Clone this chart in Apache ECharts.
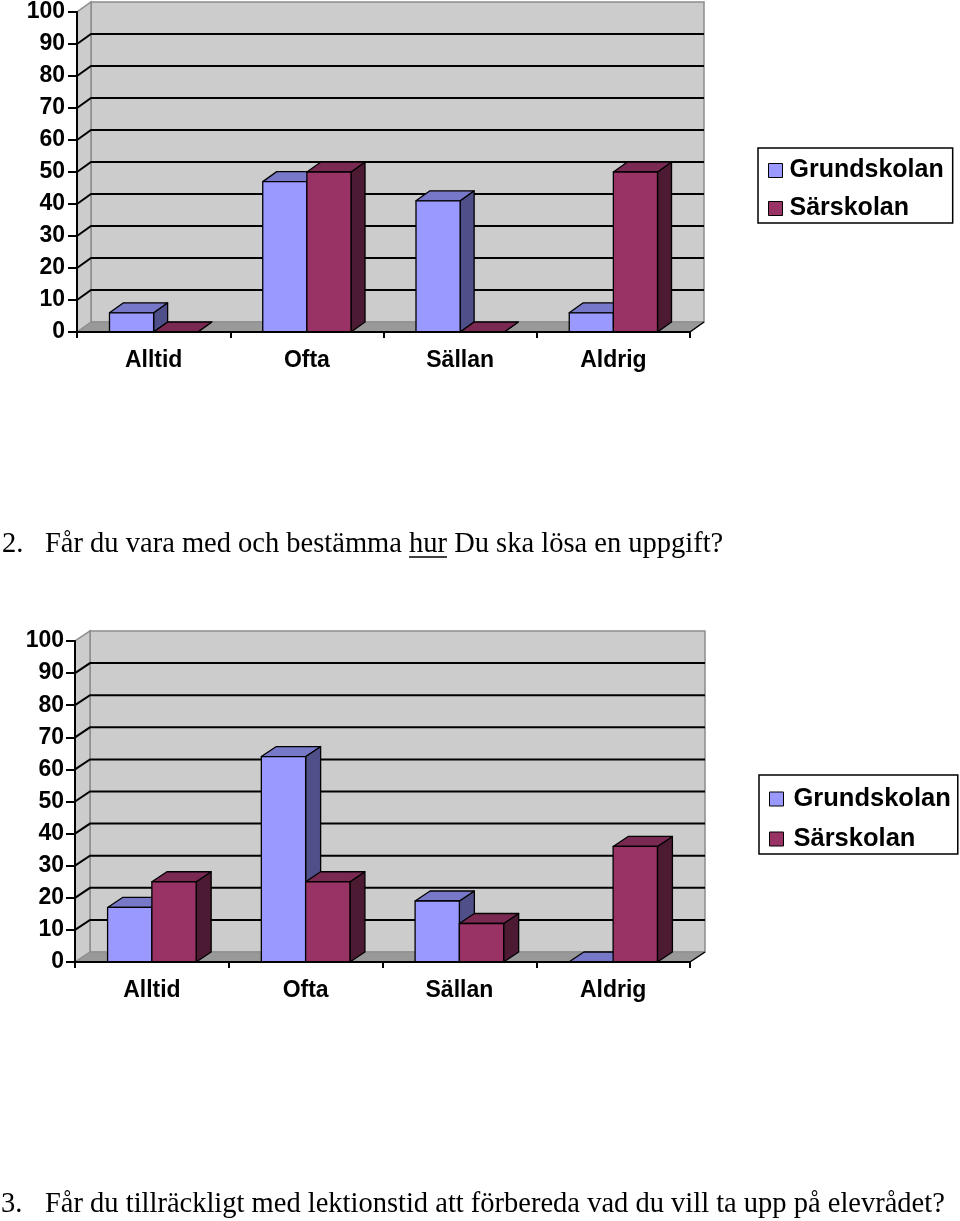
<!DOCTYPE html>
<html><head><meta charset="utf-8">
<script src="https://cdn.jsdelivr.net/npm/echarts@6/dist/echarts.min.js"></script>
<style>html,body{margin:0;padding:0;background:#fff}#c{width:960px;height:1221px}</style>
</head><body><div id="c"></div>
<script>
// ---------- data ----------
const CATEGORIES = ['Alltid', 'Ofta', 'Sällan', 'Aldrig'];
const SERIES_NAMES = ['Grundskolan', 'Särskolan'];
const Y_TICKS = [0, 10, 20, 30, 40, 50, 60, 70, 80, 90, 100];
const CHART1_GRUNDSKOLAN = [6, 47, 41, 6];
const CHART1_SARSKOLAN = [0, 50, 0, 50];
const CHART2_GRUNDSKOLAN = [17, 64, 19, 0];
const CHART2_SARSKOLAN = [25, 25, 12, 36];
const TITLE_Q2_NUM = '2.';
const TITLE_Q2_PRE = 'Får du vara med och bestämma ';
const TITLE_Q2_UNDERLINED = 'hur';
const TITLE_Q2_POST = ' Du ska lösa en uppgift?';
const TITLE_Q3_NUM = '3.';
const TITLE_Q3 = 'Får du tillräckligt med lektionstid att förbereda vad du vill ta upp på elevrådet?';

// ---------- layout / style ----------
const CHARTS = [
  { grid: { left: 77, top: 12, width: 613, height: 320 }, dx: 14, dy: -10, yMargin: 12,
    legend: { left: 758, top: 148, itemGap: 13, padding: [10, 9, 2, 10], fontSize: 25, textPad: 2 },
    values: [CHART1_GRUNDSKOLAN, CHART1_SARSKOLAN] },
  { grid: { left: 75, top: 641, width: 615, height: 321 }, dx: 15, dy: -10, yMargin: 11,
    legend: { left: 759, top: 775, itemGap: 14, padding: [11, 7, 2, 10], fontSize: 25.5, textPad: 5 },
    values: [CHART2_GRUNDSKOLAN, CHART2_SARSKOLAN] }
];
const FACE = [
  { front: '#9999ff', top: '#7878c8', side: '#4f4f8a' },
  { front: '#993366', top: '#7a2952', side: '#4c1a33' }
];
const SANS = 'Liberation Sans';
const SERIF = 'Liberation Serif';
const TITLE_SIZE = 28.5;

function wallsRender(cfg) {
  return function (params, api) {
    const cs = params.coordSys;
    const x = cs.x, w = cs.width;
    const v = api.value(1);
    const y = api.coord([0, v])[1];
    const y0 = api.coord([0, 0])[1], y100 = api.coord([0, 100])[1];
    const dx = cfg.dx, dy = cfg.dy;
    const ch = [];
    if (params.dataIndex === 0) {
      ch.push({ type: 'rect', shape: { x: x + dx, y: y100 + dy, width: w, height: y0 - y100 },
        style: { fill: '#cccccc', stroke: '#8c8c8c', lineWidth: 1.5 } });
      ch.push({ type: 'polygon', shape: { points: [[x, y0], [x + dx, y0 + dy], [x + dx, y100 + dy], [x, y100]] },
        style: { fill: '#cccccc', stroke: '#8c8c8c', lineWidth: 1.5 } });
      ch.push({ type: 'polygon', shape: { points: [[x, y0], [x + w, y0], [x + w + dx, y0 + dy], [x + dx, y0 + dy]] },
        style: { fill: '#999999', stroke: '#8c8c8c', lineWidth: 1 } });
      ch.push({ type: 'line', shape: { x1: x + w, y1: y0, x2: x + w + dx, y2: y0 + dy },
        style: { stroke: '#000', lineWidth: 1.5 } });
    }
    if (v > 0 && v < 100) {
      ch.push({ type: 'polyline', shape: { points: [[x, y], [x + dx, y + dy], [x + w + dx, y + dy]] },
        style: { stroke: '#000', lineWidth: 2, fill: null } });
    }
    return { type: 'group', children: ch };
  };
}

function barRender(cfg, si) {
  return function (params, api) {
    const i = api.value(0), v = api.value(1);
    const t = api.coord([i, v]), b = api.coord([i, 0]);
    const band = api.size([1, 0])[0];
    const w = band * 0.288;
    const x0 = si === 0 ? t[0] - w : t[0];
    const dx = cfg.dx, dy = cfg.dy, c = FACE[si];
    const st = { stroke: '#000', lineWidth: 1.3, lineJoin: 'round' };
    return { type: 'group', children: [
      { type: 'polygon', shape: { points: [[x0 + w, t[1]], [x0 + w + dx, t[1] + dy], [x0 + w + dx, b[1] + dy], [x0 + w, b[1]]] },
        style: Object.assign({ fill: c.side }, st) },
      { type: 'polygon', shape: { points: [[x0, t[1]], [x0 + w, t[1]], [x0 + w + dx, t[1] + dy], [x0 + dx, t[1] + dy]] },
        style: Object.assign({ fill: c.top }, st) },
      { type: 'rect', shape: { x: x0, y: t[1], width: w, height: b[1] - t[1] },
        style: Object.assign({ fill: c.front }, st) }
    ] };
  };
}

const grids = [], xAxes = [], yAxes = [], series = [], legends = [];
CHARTS.forEach((cfg, k) => {
  grids.push(Object.assign({ containLabel: false }, cfg.grid));
  xAxes.push({ type: 'category', gridIndex: k, data: CATEGORIES, boundaryGap: true, z: 10,
    axisLine: { lineStyle: { color: '#000', width: 2 } },
    axisTick: { show: true, length: 6, lineStyle: { color: '#000', width: 2 } },
    axisLabel: { fontFamily: SANS, fontWeight: 'bold', fontSize: 23, color: '#000', margin: 17 },
    splitLine: { show: false } });
  yAxes.push({ type: 'value', gridIndex: k, min: 0, max: 100, interval: 10, z: 10,
    axisLine: { show: true, lineStyle: { color: '#000', width: 2 } },
    axisTick: { show: true, length: 9, lineStyle: { color: '#000', width: 2 } },
    axisLabel: { fontFamily: SANS, fontWeight: 'bold', fontSize: 23, color: '#000', margin: cfg.yMargin },
    splitLine: { show: false } });
  series.push({ type: 'custom', name: 'walls' + k, xAxisIndex: k, yAxisIndex: k, z: 1, silent: true,
    clip: false, renderItem: wallsRender(cfg), data: Y_TICKS.map(v => [0, v]) });
  cfg.values.forEach((vals, si) => {
    series.push({ type: 'custom', name: SERIES_NAMES[si], xAxisIndex: k, yAxisIndex: k, z: 3,
      clip: false, itemStyle: { color: FACE[si].front },
      renderItem: barRender(cfg, si), data: vals.map((v, i) => [i, v]) });
  });
  const L = cfg.legend;
  legends.push({ orient: 'vertical', left: L.left, top: L.top, data: SERIES_NAMES,
    icon: 'rect', itemWidth: 14, itemHeight: 14, itemGap: L.itemGap, padding: L.padding,
    borderColor: '#000', borderWidth: 1.5, backgroundColor: '#fff', selectedMode: false,
    textStyle: { fontFamily: SANS, fontWeight: 'bold', fontSize: L.fontSize, color: '#000', padding: [0, 0, 0, L.textPad] },
    itemStyle: { borderColor: '#000', borderWidth: 1 } });
});

// measure for underline
const mctx = document.createElement('canvas').getContext('2d');
mctx.font = TITLE_SIZE + 'px "' + SERIF + '"';
const preW = mctx.measureText(TITLE_Q2_PRE).width;
const hurW = mctx.measureText(TITLE_Q2_UNDERLINED).width;
const TX = 45;

const titleStyle = { fontFamily: SERIF, fontSize: TITLE_SIZE, fill: '#000', verticalAlign: 'middle' };
const graphic = [
  { type: 'text', x: 2, y: 545, style: Object.assign({ text: TITLE_Q2_NUM }, titleStyle) },
  { type: 'text', x: TX, y: 545, style: Object.assign({ text: TITLE_Q2_PRE + TITLE_Q2_UNDERLINED + TITLE_Q2_POST }, titleStyle) },
  { type: 'line', shape: { x1: TX + preW, y1: 557, x2: TX + preW + hurW, y2: 557 }, style: { stroke: '#000', lineWidth: 1.5 } },
  { type: 'text', x: 1, y: 1205, style: Object.assign({ text: TITLE_Q3_NUM }, titleStyle) },
  { type: 'text', x: TX, y: 1205, style: Object.assign({ text: TITLE_Q3 }, titleStyle) }
];

const chart = echarts.init(document.getElementById('c'), null, { renderer: 'canvas' });
chart.setOption({
  animation: false,
  backgroundColor: '#fff',
  grid: grids, xAxis: xAxes, yAxis: yAxes, series: series, legend: legends, graphic: graphic
});
</script></body></html>
